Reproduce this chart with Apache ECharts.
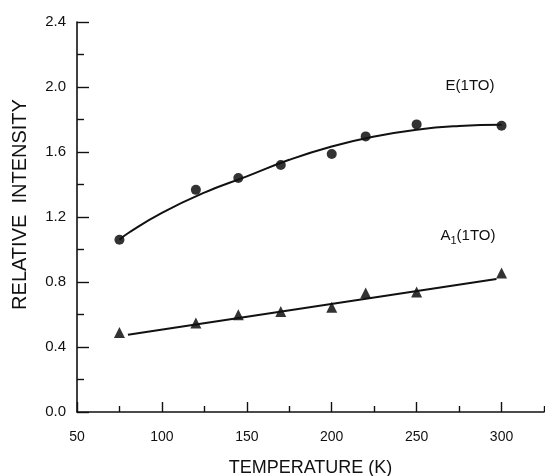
<!DOCTYPE html>
<html>
<head>
<meta charset="utf-8">
<script src="https://cdn.jsdelivr.net/npm/echarts@6/dist/echarts.min.js"></script>
<style>
  html, body { margin: 0; padding: 0; background: #fff; }
  #chart { width: 545px; height: 476px; }
</style>
</head>
<body>
<div id="chart"></div>
<script>
// measured points
let temps = [75, 120, 145, 170, 200, 220, 250, 300]
let eValues = [1.06, 1.367, 1.44, 1.52, 1.588, 1.696, 1.77, 1.762]
let a1Values = [0.49, 0.548, 0.598, 0.618, 0.644, 0.732, 0.738, 0.855]

// fitted curves
let eFitX = [75, 80, 100, 125, 150, 175, 200, 225, 250, 275, 300]
let eFitY = [1.06, 1.10, 1.225, 1.35, 1.45, 1.552, 1.634, 1.695, 1.737, 1.76, 1.768]
let a1FitX = [80, 297]
let a1FitY = [0.476, 0.818]

// ticks
let xMajorTicks = [50, 100, 150, 200, 250, 300]
let xMinorTicks = [75, 125, 175, 225, 275, 325]
let yTicks = [0, 0.4, 0.8, 1.2, 1.6, 2.0, 2.4]

let font = 'Liberation Sans, Arial, sans-serif'
let ink = '#111'

let chart = echarts.init(document.getElementById('chart'))

chart.setOption({
  backgroundColor: '#fff',
  animation: false,
  grid: { left: 77, right: 1, top: 22, bottom: 64, containLabel: false, outerBoundsMode: 'none' },
  xAxis: [
    {
      type: 'value',
      position: 'bottom',
      min: 50,
      max: 325,
      name: 'TEMPERATURE (K)',
      nameLocation: 'middle',
      nameGap: 47,
      nameTextStyle: { fontFamily: font, fontSize: 18, color: ink },
      axisLine: { show: true, lineStyle: { color: ink, width: 1.6 } },
      axisTick: { inside: true, length: 10, lineStyle: { color: ink, width: 1.4 }, customValues: xMajorTicks },
      axisLabel: { customValues: xMajorTicks, fontFamily: font, fontSize: 14, color: ink, margin: 18 },
      splitLine: { show: false }
    },
    {
      type: 'value',
      position: 'bottom',
      min: 50,
      max: 325,
      axisLine: { show: false },
      axisTick: { inside: true, length: 6, lineStyle: { color: ink, width: 1.4 }, customValues: xMinorTicks },
      axisLabel: { show: false },
      splitLine: { show: false }
    }
  ],
  yAxis: {
    type: 'value',
    min: 0,
    max: 2.4,
    interval: 0.4,
    name: 'RELATIVE  INTENSITY',
    nameLocation: 'middle',
    nameGap: 47,
    nameTextStyle: { fontFamily: font, fontSize: 20, color: ink, padding: [0, 0, 0, 25] },
    axisLine: { show: true, onZero: false, lineStyle: { color: ink, width: 1.6 } },
    axisTick: { inside: true, length: 12, lineStyle: { color: ink, width: 1.4 } },
    minorTick: { show: true, splitNumber: 2, length: 7, lineStyle: { color: ink, width: 1.4 } },
    axisLabel: {
      fontFamily: font, fontSize: 15, color: ink, margin: 11,
      formatter: v => v.toFixed(1)
    },
    splitLine: { show: false },
    minorSplitLine: { show: false }
  },
  series: [
    {
      name: 'E fit',
      type: 'line',
      smooth: true,
      showSymbol: false,
      lineStyle: { color: ink, width: 2 },
      data: eFitX.map((x, i) => [x, eFitY[i]])
    },
    {
      name: 'A1 fit',
      type: 'line',
      showSymbol: false,
      lineStyle: { color: ink, width: 2 },
      data: a1FitX.map((x, i) => [x, a1FitY[i]])
    },
    {
      name: 'E(1TO)',
      type: 'scatter',
      symbol: 'circle',
      symbolSize: 10,
      itemStyle: { color: '#000' },
      data: temps.map((x, i) => [x, eValues[i]])
    },
    {
      name: 'A1(1TO)',
      type: 'scatter',
      symbol: 'triangle',
      symbolSize: 11,
      itemStyle: { color: '#000' },
      data: temps.map((x, i) => [x, a1Values[i]])
    }
  ],
  graphic: [
    {
      type: 'text',
      x: 470, y: 86,
      style: { text: 'E(1TO)', font: '15px ' + font, fill: ink, align: 'center', verticalAlign: 'middle' }
    },
    {
      type: 'text',
      x: 468, y: 236,
      style: {
        text: '{a|A}{s|1}{a|(1TO)}',
        align: 'center',
        verticalAlign: 'middle',
        rich: {
          a: { fontFamily: font, fontSize: 15, fill: ink, lineHeight: 18 },
          s: { fontFamily: font, fontSize: 11, fill: ink, lineHeight: 18, padding: [10, 0, 0, 0] }
        }
      }
    }
  ]
})

window.onresize = () => { chart.resize() }
</script>
</body>
</html>
